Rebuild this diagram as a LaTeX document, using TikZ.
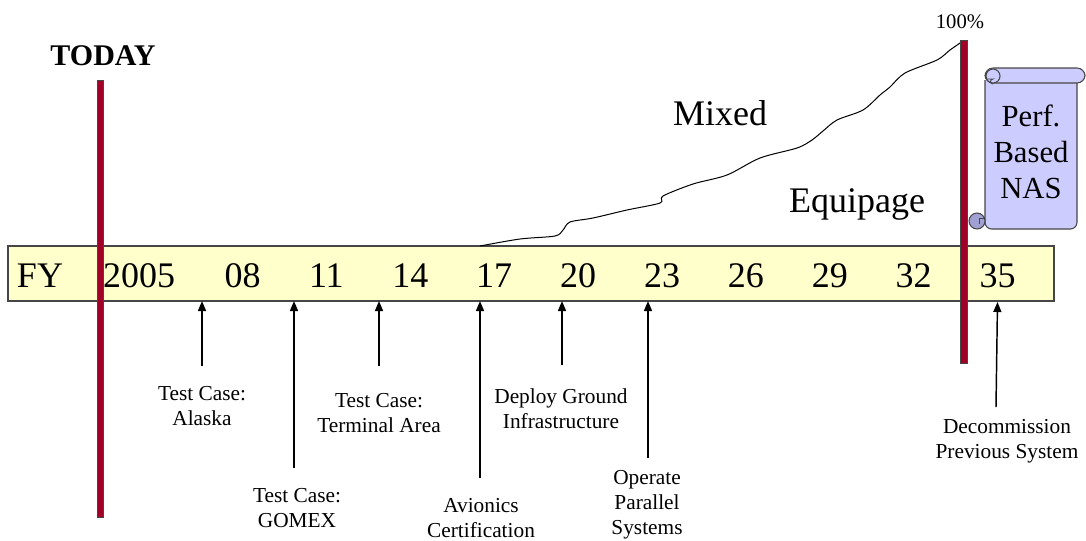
\documentclass[tikz,border=0pt]{standalone}
\usepackage{fontspec}
\setmainfont{Liberation Serif}
\usetikzlibrary{arrows.meta}

\definecolor{barYellow}{RGB}{255,255,204}
\definecolor{poleRed}{RGB}{160,0,40}
\definecolor{scrollBlue}{RGB}{204,204,255}
\definecolor{curlBlue}{RGB}{160,160,210}
\definecolor{edgeGray}{RGB}{70,70,70}

\tikzset{
  yearlbl/.style={anchor=base, inner sep=0.75pt, font=\fontsize{27}{30}\selectfont},
  eventlbl/.style={anchor=base, inner sep=0.75pt, align=center, font=\fontsize{16}{18.4}\selectfont},
  pointer/.style={line width=1.1pt, -{Triangle[length=7.5pt,width=6pt]}},
  pole/.style={fill=poleRed, draw=edgeGray, line width=0.5pt},
  scroll/.style={fill=scrollBlue, draw=edgeGray, line width=0.8pt}
}

\begin{document}
\begin{tikzpicture}[x=0.75pt,y=0.75pt,yscale=-1,xscale=1]
    \path[use as bounding box] (0,0) rectangle (1086,540);

    %Shape: Rectangle [id:fybar]
    \draw [fill=barYellow, draw=edgeGray, line width=0.9pt] (8,246) rectangle (1054,301) ;
    \coordinate (barbot) at (0,301);

    %Curve: equipage line
    \coordinate (curvestart) at (480,246);
    \coordinate (curveend) at (963,41);
    \draw [line width=0.75pt] plot [smooth, tension=0.5] coordinates {(480,246) (520,239) (555,236) (563,230) (570,222) (593,218) (627,210) (660,203) (663,196) (693,184) (727,175) (760,158) (797,148) (812,140) (823,131) (837,120) (863,110) (880,95) (890,87) (905,73) (937,60) (950,50) (963,41)} ;

    %Shape: Today pole
    \draw [pole] (97,80) rectangle (103,517) ;
    %Shape: 100% pole
    \draw [pole] (960,40) rectangle (967,363) ;

    %Shape: Scroll
    \draw [scroll, rounded corners=5] (985,80) -- (985,229) -- (1077,229) -- (1077,80) ;
    \draw [scroll, rounded corners=6] (985,68) rectangle (1085,83) ;
    \draw [scroll] (993,76) circle [radius=7] ;
    \draw [edgeGray, line width=0.7pt] (987,79) -- (993,79) arc [start angle=90, end angle=-90, radius=-2.5] ;
    \draw [fill=curlBlue, draw=edgeGray, line width=0.8pt] (977,221) circle [radius=8] ;
    \draw [edgeGray, line width=0.7pt] (985,218) -- (979,218) -- (979,224) ;

    % Text Node
    \draw (103,65) node [anchor=base, inner sep=0.75pt, font=\fontsize{22.5}{25}\selectfont\bfseries] (today) {TODAY};
    % Text Node
    \draw (960,28) node [anchor=base, inner sep=0.75pt, font=\fontsize{15.5}{18}\selectfont] (full) {100\%};
    % Text Node
    \draw (720,125) node [anchor=base, inner sep=0.75pt, font=\fontsize{27}{30}\selectfont] (mixed) {Mixed};
    % Text Node
    \draw (857,212) node [anchor=base, inner sep=0.75pt, font=\fontsize{27}{30}\selectfont] (equipage) {Equipage};
    % Text Node
    \draw (1031,198) node [anchor=base, inner sep=0.75pt, align=center, font=\fontsize{23}{27}\selectfont] (perf) {Perf.\\Based\\NAS};

    % Year labels
    \draw (40,287) node [yearlbl] (fy) {FY};
    \draw (139,287) node [yearlbl] (y2005) {2005};
    \foreach \yr [count=\i from 0] in {08,11,14,17,20,23,26,29,32,35}
      \draw ({242.5+83.9*\i},287) node [yearlbl] (y\yr) {\yr};

    % Event labels (base = last line)
    \draw (202,425) node [eventlbl] (alaska) {Test Case:\\Alaska};
    \draw (297,527) node [eventlbl] (gomex) {Test Case:\\GOMEX};
    \draw (379,432) node [eventlbl] (terminal) {Test Case:\\Terminal Area};
    \draw (481,537) node [eventlbl] (avionics) {Avionics\\Certification};
    \draw (561,428) node [eventlbl] (ground) {Deploy Ground\\Infrastructure};
    \draw (647,534) node [eventlbl] (parallel) {Operate\\Parallel\\Systems};
    \draw (1007,458) node [eventlbl] (decomm) {Decommission\\Previous System};

    % Arrow feet
    \coordinate (pAlaska) at (202,366);
    \coordinate (pGomex) at (294,468);
    \coordinate (pTerminal) at (379,366);
    \coordinate (pAvionics) at (480,478);
    \coordinate (pGround) at (562,365);
    \coordinate (pParallel) at (648,458);
    \coordinate (pDecomm) at (996,407);

    \foreach \p in {pAlaska,pGomex,pTerminal,pAvionics,pGround,pParallel}
      \draw [pointer] (\p) -- (\p |- barbot);
    \draw [pointer] (pDecomm) -- (997.5,302);
\end{tikzpicture}
\end{document}
